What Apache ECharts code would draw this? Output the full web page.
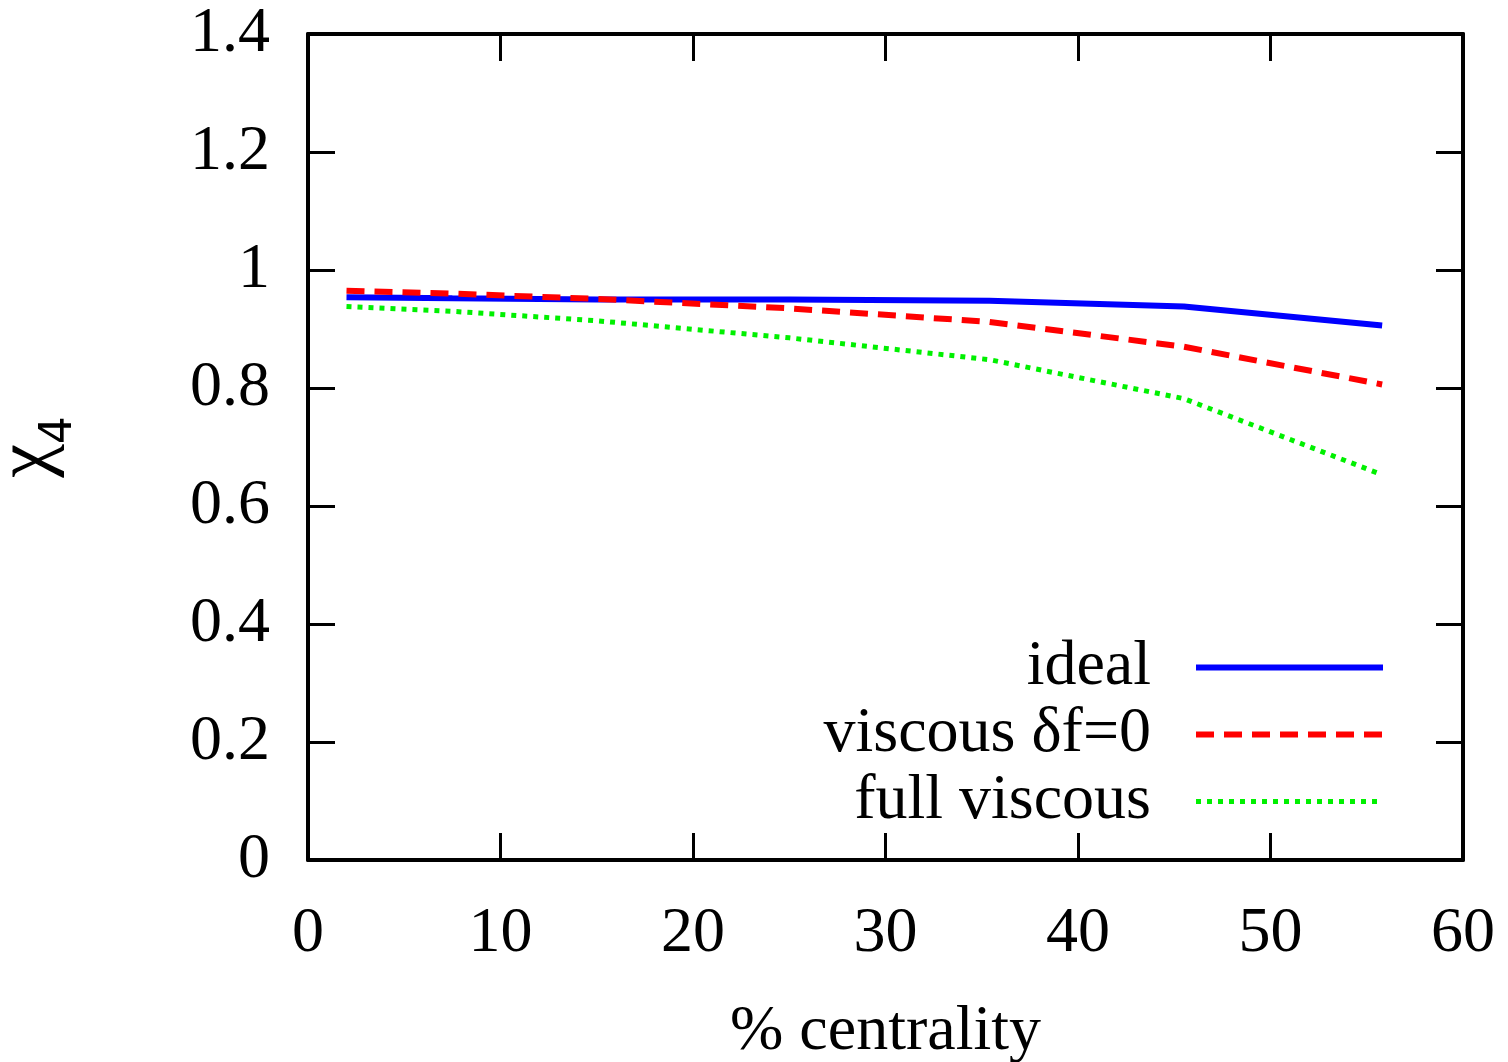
<!DOCTYPE html>
<html>
<head>
<meta charset="utf-8">
<title>chi4 vs centrality</title>
<script src="https://cdn.jsdelivr.net/npm/echarts@6/dist/echarts.min.js"></script>
<style>
  html, body { margin: 0; padding: 0; background: #fff; }
  #chart { width: 1508px; height: 1062px; }
</style>
</head>
<body>
<div id="chart"></div>
<script>
const centrality = [2, 7.5, 15, 25, 35.4, 45.5, 55.8]
const ideal = [0.954, 0.952, 0.95, 0.95, 0.948, 0.938, 0.906]
const viscousNoDf = [0.965, 0.96, 0.951, 0.935, 0.912, 0.87, 0.806]
const fullViscous = [0.938, 0.93, 0.914, 0.885, 0.848, 0.782, 0.653]

const font = 'Liberation Serif, Times New Roman, serif'
const fs = 64

function pairs(ys) {
  return centrality.map((x, i) => [x, ys[i]])
}

const chart = echarts.init(document.getElementById('chart'))

const frameAxis = {
  axisLine: { show: true, onZero: false, lineStyle: { color: '#000', width: 4 } },
  axisTick: { show: true, inside: true, length: 27, lineStyle: { color: '#000', width: 3 } },
  splitLine: { show: false }
}

chart.setOption({
  animation: false,
  grid: { left: 308, right: 45, top: 34, bottom: 202, outerBoundsMode: 'none' },
  legend: {
    orient: 'vertical',
    right: 117,
    top: 629,
    align: 'right',
    itemWidth: 187,
    itemHeight: 20,
    itemGap: 0,
    itemStyle: { opacity: 0 },
    textStyle: { fontFamily: font, fontSize: fs, lineHeight: 67, color: '#000', padding: [0, 40, 0, 0] },
    data: [
      { name: 'ideal', lineStyle: { width: 6 } },
      { name: 'viscous δf=0', lineStyle: { width: 6 } },
      { name: 'full viscous', lineStyle: { width: 5 } }
    ]
  },
  xAxis: [
    {
      type: 'value', min: 0, max: 60, interval: 10, position: 'bottom',
      name: '% centrality', nameLocation: 'middle', nameGap: 140,
      nameTextStyle: { fontFamily: font, fontSize: fs, color: '#000' },
      axisLabel: { fontFamily: font, fontSize: fs, color: '#000', margin: 42 },
      ...frameAxis
    },
    {
      type: 'value', min: 0, max: 60, interval: 10, position: 'top',
      axisLabel: { show: false },
      ...frameAxis
    }
  ],
  yAxis: [
    {
      type: 'value', min: 0, max: 1.4, interval: 0.2, position: 'left',
      name: '{a|χ}{b|4}', nameLocation: 'middle', nameGap: 226, nameRotate: 90,
      nameTextStyle: {
        rich: {
          a: { fontFamily: font, fontSize: 76, color: '#000', padding: [0, 0, 16, 0] },
          b: { fontFamily: 'DejaVu Sans, sans-serif', fontSize: 44, color: '#000', verticalAlign: 'bottom' }
        }
      },
      axisLabel: { fontFamily: font, fontSize: fs, color: '#000', margin: 38 },
      ...frameAxis
    },
    {
      type: 'value', min: 0, max: 1.4, interval: 0.2, position: 'right',
      axisLabel: { show: false },
      ...frameAxis
    }
  ],
  series: [
    {
      name: 'ideal', type: 'line', symbol: 'none',
      lineStyle: { color: '#0000ff', width: 6 },
      itemStyle: { color: '#0000ff' },
      data: pairs(ideal)
    },
    {
      name: 'viscous δf=0', type: 'line', symbol: 'none',
      lineStyle: { color: '#ff0000', width: 6, type: [18, 10] },
      itemStyle: { color: '#ff0000' },
      data: pairs(viscousNoDf)
    },
    {
      name: 'full viscous', type: 'line', symbol: 'none',
      lineStyle: { color: '#00f000', width: 5, type: [5, 6] },
      itemStyle: { color: '#00f000' },
      data: pairs(fullViscous)
    }
  ]
})
</script>
</body>
</html>
